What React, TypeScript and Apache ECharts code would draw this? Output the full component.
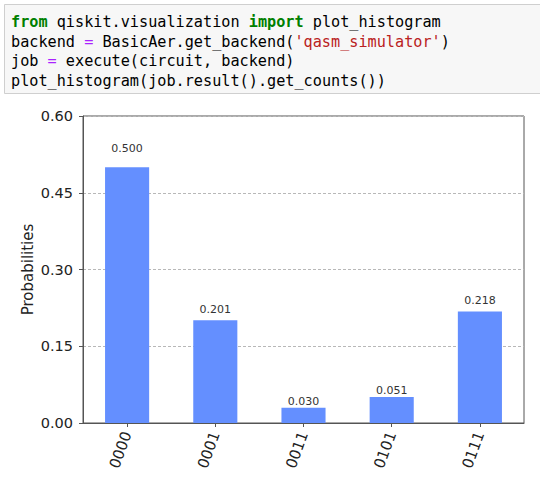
import React, { useEffect, useRef } from "react";
import * as echarts from "echarts";

const categories = ["0000", "0001", "0011", "0101", "0111"];
const probabilities = [0.5, 0.201, 0.03, 0.051, 0.218];
const valueLabels = ["0.500", "0.201", "0.030", "0.051", "0.218"];
const yTicks = [0, 0.15, 0.3, 0.45, 0.6];

const codeLines = [
  "{k|from} qiskit.visualization {k|import} plot_histogram",
  "backend {o|=} BasicAer.get_backend({s|'qasm_simulator'})",
  "job {o|=} execute(circuit, backend)",
  "plot_histogram(job.result().get_counts())",
];

const W = 540;
const H = 478;
const GRID = { left: 83, top: 116, right: 16, bottom: 55 };

export default function App() {
  const ref = useRef<HTMLDivElement>(null);
  useEffect(() => {
    if (!ref.current) return;
    const chart = echarts.init(ref.current, null, { renderer: "svg" });
    const yMax = yTicks[yTicks.length - 1];
    const pxPerUnit = (H - GRID.top - GRID.bottom) / yMax;
    const mono = "'DejaVu Sans Mono', monospace";
    const codeFont = 15.2;
    const lineYs = [22, 41.5, 61, 80.5];

    chart.setOption({
      animation: false,
      backgroundColor: "#ffffff",
      grid: {
        left: GRID.left,
        top: GRID.top,
        right: GRID.right,
        bottom: GRID.bottom,
        show: true,
        borderColor: "#555555",
        borderWidth: 1,
        backgroundColor: "transparent",
      },
      xAxis: {
        type: "category",
        data: categories,
        axisLine: { show: true, lineStyle: { color: "#555555", width: 1 } },
        axisTick: { show: true, alignWithLabel: true, length: 4, lineStyle: { color: "#555555" } },
        axisLabel: {
          rotate: 70,
          margin: 9,
          fontSize: 15,
          fontFamily: "'DejaVu Sans', sans-serif",
          color: "#222222",
        },
        splitLine: { show: false },
      },
      yAxis: {
        type: "value",
        min: 0,
        max: yMax,
        interval: 0.15,
        name: "Probabilities",
        nameLocation: "middle",
        nameGap: 48,
        nameMoveOverlap: false,
        nameTextStyle: {
          fontSize: 15,
          fontFamily: "'DejaVu Sans', sans-serif",
          color: "#222222",
        },
        axisLine: { show: true, lineStyle: { color: "#555555", width: 1 } },
        axisTick: { show: true, length: 4, lineStyle: { color: "#555555" } },
        axisLabel: {
          margin: 10,
          fontSize: 14.5,
          fontFamily: "'DejaVu Sans', sans-serif",
          color: "#222222",
          formatter: (v: number) => v.toFixed(2),
        },
        splitLine: { show: true, lineStyle: { color: "#b8b8b8", type: [3, 2], width: 1 } },
      },
      series: [
        {
          type: "bar",
          barWidth: "50%",
          itemStyle: { color: "#648fff" },
          data: probabilities.map((v, i) => ({
            value: v,
            label: {
              show: true,
              position: "top",
              distance: 0.05 * v * pxPerUnit,
              formatter: valueLabels[i],
              fontSize: 11,
              fontFamily: "'DejaVu Sans', sans-serif",
              color: "#333333",
            },
          })),
        },
      ],
      graphic: [
        {
          type: "rect",
          shape: { x: 4.5, y: 4.5, width: 560, height: 89 },
          style: { fill: "#f7f7f7", stroke: "#cfcfcf", lineWidth: 1 },
          z: 1,
        },
        ...codeLines.map((t, i) => ({
          type: "text",
          x: 11,
          y: lineYs[i],
          z: 2,
          style: {
            text: t,
            font: `${codeFont}px ${mono}`,
            fill: "#000000",
            verticalAlign: "middle",
            rich: {
              k: { fill: "#008000", fontWeight: "bold", fontSize: codeFont, fontFamily: mono },
              o: { fill: "#aa22ff", fontSize: codeFont, fontFamily: mono },
              s: { fill: "#ba2121", fontSize: codeFont, fontFamily: mono },
            },
          },
        })),
      ],
    });
    return () => chart.dispose();
  }, []);
  return (
    <div
      ref={ref}
      style={{ position: "fixed", left: 0, top: 0, width: W, height: H }}
    />
  );
}
